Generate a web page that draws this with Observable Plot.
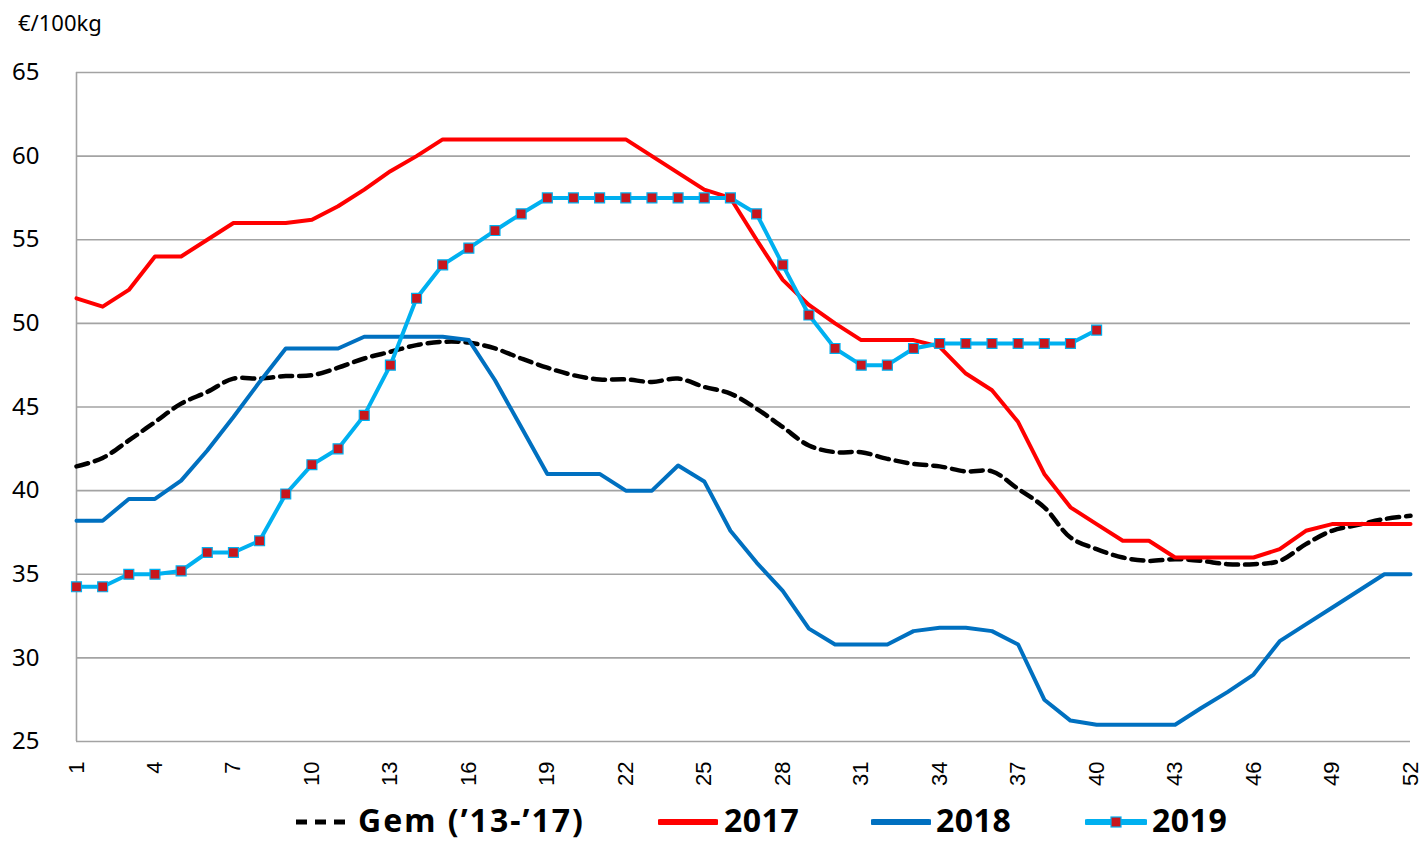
<!DOCTYPE html>
<html>
<head>
<meta charset="utf-8">
<script src="https://cdn.jsdelivr.net/npm/d3@7"></script>
<script src="https://cdn.jsdelivr.net/npm/@observablehq/plot@0.6"></script>
<style>
  html, body { margin: 0; padding: 0; background: #fff; }
  #wrap { position: relative; width: 1428px; height: 842px; overflow: hidden; }
  #unit { position: absolute; left: 18px; top: 7px; font: 22px "Noto Sans", sans-serif; color: #000; }
  #chart { position: absolute; left: 0; top: 0; }
  .sw { position: absolute; top: 812px; }
  .lt { position: absolute; top: 798px; line-height: normal;
        font: 700 32px "Noto Sans", sans-serif; color: #000; white-space: nowrap; }
</style>
</head>
<body>
<div id="wrap">
  <div id="chart"></div>
  <div id="unit">€/100kg</div>
</div>
<script>
const weeks = [1,2,3,4,5,6,7,8,9,10,11,12,13,14,15,16,17,18,19,20,21,22,23,24,25,26,
  27,28,29,30,31,32,33,34,35,36,37,38,39,40,41,42,43,44,45,46,47,48,49,50,51,52];
const xTicks = [1,4,7,10,13,16,19,22,25,28,31,34,37,40,43,46,49,52];
const yTicks = [25,30,35,40,45,50,55,60,65];
const seriesNames = ["Gem (’13-’17)", "2017", "2018", "2019"];

const gem = [41.45, 41.95, 43.0, 44.1, 45.2, 45.9, 46.7, 46.7, 46.85, 46.9,
  47.35, 47.9, 48.3, 48.7, 48.9, 48.85, 48.5, 47.9, 47.35, 46.9,
  46.65, 46.65, 46.5, 46.7, 46.2, 45.8, 44.9, 43.8, 42.7, 42.3,
  42.3, 41.9, 41.6, 41.45, 41.15, 41.15, 40.1, 39.0, 37.2, 36.5,
  36.0, 35.8, 35.9, 35.8, 35.6, 35.6, 35.8, 36.8, 37.6, 37.95, 38.3, 38.5];
const y2017 = [51.5, 51.0, 52.0, 54.0, 54.0, 55.0, 56.0, 56.0, 56.0, 56.2,
  57.0, 58.0, 59.1, 60.0, 61.0, 61.0, 61.0, 61.0, 61.0, 61.0,
  61.0, 61.0, 60.0, 59.0, 58.0, 57.5, 55.0, 52.6, 51.1, 50.0,
  49.0, 49.0, 49.0, 48.6, 47.0, 46.0, 44.1, 41.0, 39.0, 38.0,
  37.0, 37.0, 36.0, 36.0, 36.0, 36.0, 36.5, 37.6, 38.0, 38.0, 38.0, 38.0];
const y2018 = [38.2, 38.2, 39.5, 39.5, 40.6, 42.4, 44.4, 46.5, 48.5, 48.5,
  48.5, 49.2, 49.2, 49.2, 49.2, 49.0, 46.6, 43.8, 41.0, 41.0,
  41.0, 40.0, 40.0, 41.5, 40.55, 37.6, 35.7, 34.0, 31.75, 30.8,
  30.8, 30.8, 31.6, 31.8, 31.8, 31.6, 30.8, 27.5, 26.25, 26.0,
  26.0, 26.0, 26.0, 27.0, 27.95, 29.0, 31.0, 32.0, 33.0, 34.0, 35.0, 35.0];
const y2019 = [34.25, 34.25, 35.0, 35.0, 35.2, 36.3, 36.3, 37.0, 39.8, 41.55,
  42.5, 44.5, 47.5, 51.5, 53.5, 54.5, 55.55, 56.55, 57.5, 57.5,
  57.5, 57.5, 57.5, 57.5, 57.5, 57.5, 56.55, 53.5, 50.5, 48.5,
  47.5, 47.5, 48.5, 48.8, 48.8, 48.8, 48.8, 48.8, 48.8, 49.6];

const toRows = (vals) => vals.map((v, i) => ({week: weeks[i], value: v}));
const gemRows = toRows(gem), r17 = toRows(y2017), r18 = toRows(y2018), r19 = toRows(y2019);

const gridColor = "#a3a3a3";
const c17 = "#ff0000", c18 = "#0070c0", c19 = "#00b0f0", cMark = "#c8161d";

const chart = Plot.plot({
  width: 1428,
  height: 790,
  marginLeft: 76,
  marginRight: 18,
  marginTop: 72,
  marginBottom: 49,
  style: {fontFamily: "'Noto Sans', sans-serif", background: "transparent"},
  x: {domain: [1, 52]},
  y: {domain: [25, 65]},
  marks: [
    Plot.gridY(yTicks, {stroke: gridColor, strokeOpacity: 1, strokeWidth: 1.6}),
    Plot.ruleX([1], {stroke: gridColor, strokeWidth: 1.6}),
    Plot.axisY(yTicks, {tickSize: 0, tickPadding: 37, fontSize: 24, label: null, fill: "#000"}),
    Plot.axisX(xTicks, {tickSize: 0, tickRotate: -90, tickPadding: 20, fontSize: 22, label: null,
      fontFamily: "'Liberation Sans', Arial, sans-serif", fill: "#000"}),
    Plot.line(gemRows, {x: "week", y: "value", stroke: "#000", strokeWidth: 4.5,
      strokeDasharray: "12,7", curve: "catmull-rom"}),
    Plot.line(r17, {x: "week", y: "value", stroke: c17, strokeWidth: 4}),
    Plot.line(r18, {x: "week", y: "value", stroke: c18, strokeWidth: 4}),
    Plot.line(r19, {x: "week", y: "value", stroke: c19, strokeWidth: 4}),
    Plot.dot(r19, {x: "week", y: "value", symbol: "square", r: 5.6, fill: cMark, stroke: c19, strokeWidth: 1.2})
  ]
});
document.getElementById("chart").appendChild(chart);

// Legend (positions taken from reference)
const wrap = document.getElementById("wrap");
const swatches = [
  `<svg width="52" height="20"><line x1="0" y1="10" x2="50" y2="10" stroke="#000" stroke-width="5" stroke-dasharray="11,8"/></svg>`,
  `<svg width="60" height="20"><line x1="2" y1="10" x2="58" y2="10" stroke="${c17}" stroke-width="6" stroke-linecap="round"/></svg>`,
  `<svg width="60" height="20"><line x1="2" y1="10" x2="58" y2="10" stroke="${c18}" stroke-width="6" stroke-linecap="round"/></svg>`,
  `<svg width="62" height="20"><line x1="2" y1="10" x2="60" y2="10" stroke="${c19}" stroke-width="6" stroke-linecap="round"/><rect x="26" y="5" width="10" height="10" fill="${cMark}" stroke="${c19}" stroke-width="1.2"/></svg>`
];
const swLeft = [296, 658, 871, 1085];
const txtLeft = [358, 724, 936, 1152];
const txtSpacing = ["2px", "0.5px", "0.5px", "0.5px"];
seriesNames.forEach((name, i) => {
  const s = document.createElement("div");
  s.className = "sw";
  s.style.left = swLeft[i] + "px";
  s.innerHTML = swatches[i];
  wrap.appendChild(s);
  const t = document.createElement("div");
  t.className = "lt";
  t.style.left = txtLeft[i] + "px";
  t.style.letterSpacing = txtSpacing[i];
  t.textContent = name;
  wrap.appendChild(t);
});
</script>
</body>
</html>
